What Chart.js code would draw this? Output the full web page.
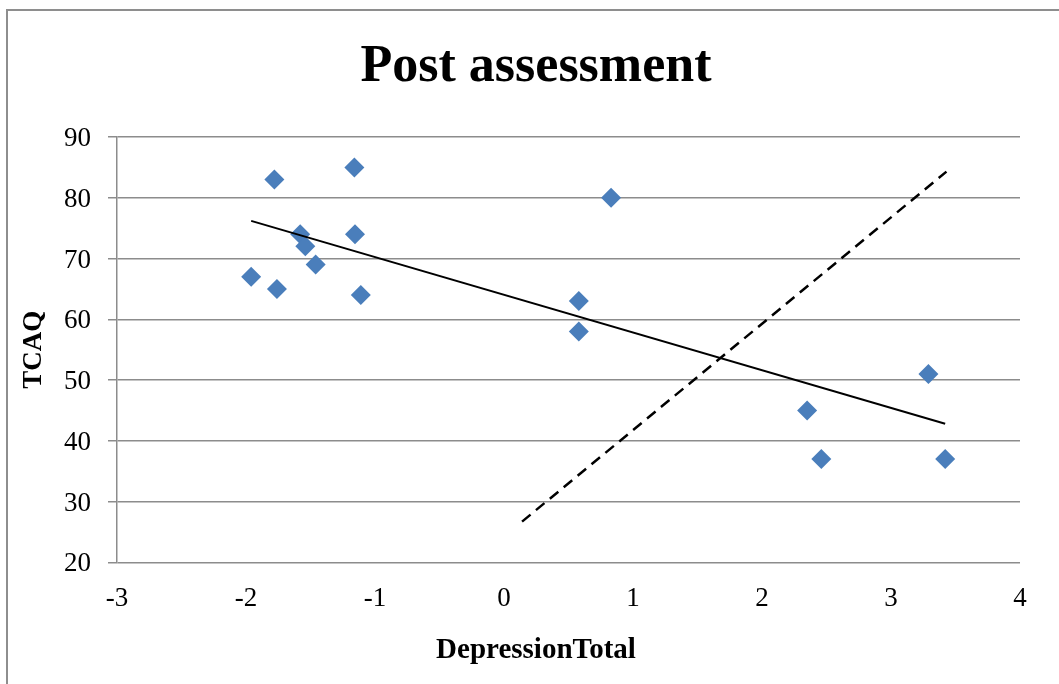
<!DOCTYPE html>
<html>
<head>
<meta charset="utf-8">
<script src="https://cdn.jsdelivr.net/npm/chart.js@4/dist/chart.umd.min.js"></script>
<style>
  html, body { margin: 0; padding: 0; background: #ffffff; overflow: hidden; width: 1059px; height: 684px; }
  #box { position: absolute; left: 6px; top: 9px; width: 1062px; height: 690px; border: 2px solid #8e8e8e; background: #fff; }
  #c { display: block; }
</style>
</head>
<body>
<div id="box"><canvas id="c" width="1062" height="690"></canvas></div>
<script>
// Data
const depressionTotal = [-1.96, -1.78, -1.76, -1.58, -1.54, -1.46, -1.16, -1.155, -1.11, 0.58, 0.58, 0.83, 2.35, 2.46, 3.29, 3.42];
const tcaq            = [67, 83, 65, 74, 72, 69, 85, 74, 64, 63, 58, 80, 45, 37, 51, 37];
const trendX  = [-1.96, 3.42];
const trendY  = [76.2, 42.8];
const dashedX = [0.14, 3.43];
const dashedY = [26.7, 84.3];
const xTicks = [-3, -2, -1, 0, 1, 2, 3, 4];
const yTicks = [20, 30, 40, 50, 60, 70, 80, 90];

const toPts = (xs, ys) => xs.map((x, i) => ({ x: x, y: ys[i] }));
const serif = "'Liberation Serif', 'Times New Roman', serif";
const gridGray = '#8c8c8c';
const padL = 44;

new Chart(document.getElementById('c'), {
  type: 'scatter',
  data: {
    datasets: [
      {
        label: 'TCAQ',
        data: toPts(depressionTotal, tcaq),
        pointStyle: 'rectRot',
        pointRadius: 10,
        pointHoverRadius: 10,
        backgroundColor: '#4a7ebb',
        borderColor: '#4a7ebb',
        borderWidth: 0,
        order: 2
      },
      {
        label: 'Trend',
        type: 'line',
        data: toPts(trendX, trendY),
        borderColor: '#000000',
        borderWidth: 2,
        pointRadius: 0,
        fill: false,
        order: 1
      },
      {
        label: 'Dashed',
        type: 'line',
        data: toPts(dashedX, dashedY),
        borderColor: '#000000',
        borderWidth: 2.5,
        borderDash: [11, 7],
        pointRadius: 0,
        fill: false,
        order: 0
      }
    ]
  },
  options: {
    responsive: false,
    animation: false,
    layout: { padding: { left: padL, right: 50, top: 0, bottom: 0 } },
    plugins: {
      legend: { display: false },
      tooltip: { enabled: false },
      title: {
        display: true,
        text: 'Post assessment',
        color: '#000',
        font: { family: serif, size: 52, weight: 'bold', lineHeight: 1.2 },
        padding: { top: 25, bottom: 38.6 }
      },
      subtitle: {
        display: true,
        position: 'bottom',
        text: 'DepressionTotal',
        color: '#000',
        font: { family: serif, size: 29, weight: 'bold', lineHeight: 1.2 },
        padding: { top: 0, bottom: 32.6 }
      }
    },
    scales: {
      x: {
        type: 'linear',
        min: -3,
        max: 4,
        afterBuildTicks: (s) => { s.ticks = xTicks.map(v => ({ value: v })); },
        afterFit: (s) => { s.height = 71.3; },
        grid: { display: false },
        border: { display: false },
        ticks: {
          color: '#000',
          font: { family: serif, size: 27 },
          padding: 12,
          maxRotation: 0,
          callback: (v) => String(v)
        }
      },
      y: {
        type: 'linear',
        min: 20,
        max: 90,
        afterBuildTicks: (s) => { s.ticks = yTicks.map(v => ({ value: v })); },
        afterFit: (s) => { s.width = 109 - padL; },
        grid: { color: gridGray, lineWidth: 1.5, drawTicks: true, tickLength: 9, tickColor: gridGray, tickWidth: 1.5 },
        border: { display: true, color: gridGray, width: 1.5 },
        ticks: {
          color: '#000',
          font: { family: serif, size: 27 },
          padding: 17,
          labelOffset: 2,
          callback: (v) => String(v)
        },
        title: {
          display: true,
          text: 'TCAQ',
          color: '#000',
          font: { family: serif, size: 27, weight: 'bold', lineHeight: 1.2 },
          padding: { top: 10 - padL, bottom: 0 }
        }
      }
    }
  }
});
</script>
</body>
</html>
